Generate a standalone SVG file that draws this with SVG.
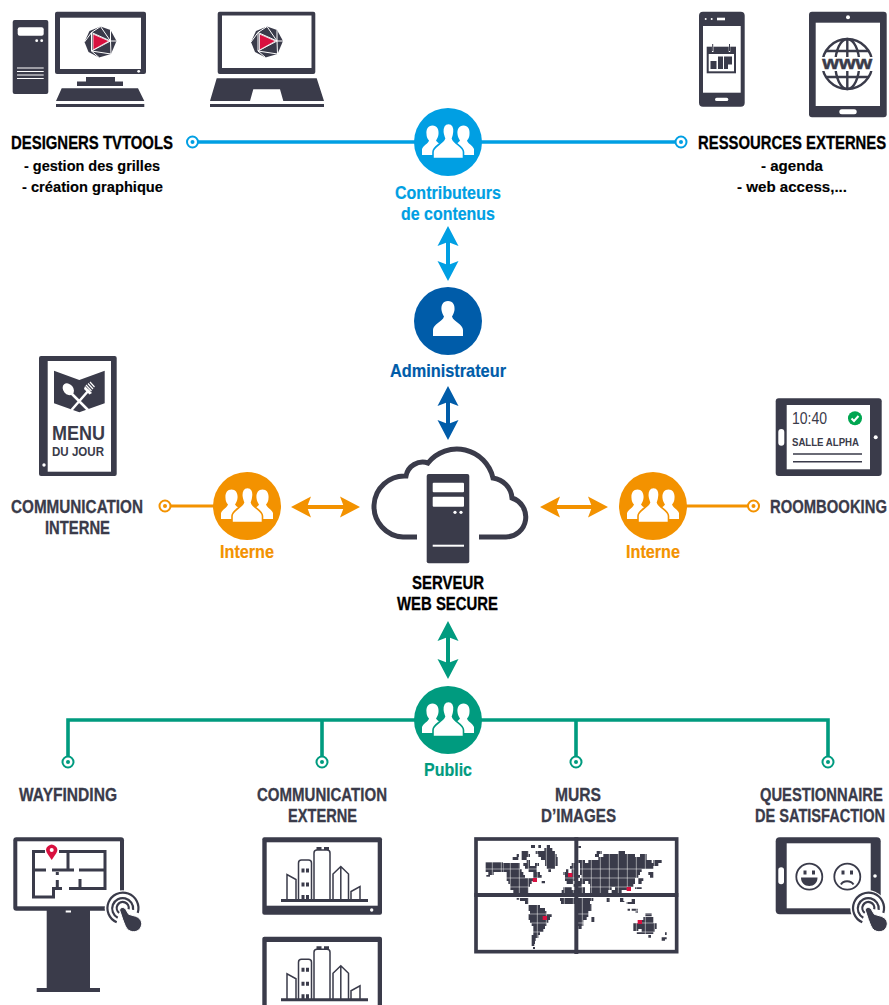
<svg xmlns="http://www.w3.org/2000/svg" width="889" height="1005" viewBox="0 0 889 1005">
<style>
text{font-family:"Liberation Sans",Arial,sans-serif;font-weight:bold;text-anchor:start}
.h{font-size:18px;fill:#000;stroke:#000;stroke-width:.3}
.s{font-size:15.5px;fill:#000;stroke:#000;stroke-width:.15}
.d{font-size:18px;fill:#3a3b4a;stroke:#3a3b4a;stroke-width:.3}
.c{text-anchor:middle}
.dk{fill:#3a3b4a}
.w{fill:#fff}
.ln{stroke:#3a3b4a;fill:none}
.wl{stroke:#fff;fill:none}
.blue{stroke:#009fe3}.navy{stroke:#005ca9}.or{stroke:#f39200}.gr{stroke:#009b7f}
.conn{fill:none;stroke-width:3.6}
.end{fill:#fff;stroke-width:2}
.lb{font-size:18.5px;stroke-width:.2}
</style>
<defs>
<marker id="mb" viewBox="0 -11 20 22" refX="10" refY="0" markerUnits="userSpaceOnUse" markerWidth="20" markerHeight="22" orient="auto-start-reverse"><path d="M20 0L0-10.500L4 0L0 10.500Z" fill="#009fe3"/></marker>
<marker id="mn" viewBox="0 -11 20 22" refX="10" refY="0" markerUnits="userSpaceOnUse" markerWidth="20" markerHeight="22" orient="auto-start-reverse"><path d="M20 0L0-10.500L4 0L0 10.500Z" fill="#005ca9"/></marker>
<marker id="mo" viewBox="0 -11 20 22" refX="10" refY="0" markerUnits="userSpaceOnUse" markerWidth="20" markerHeight="22" orient="auto-start-reverse"><path d="M20 0L0-10.500L4 0L0 10.500Z" fill="#f39200"/></marker>
<marker id="mg" viewBox="0 -11 20 22" refX="10" refY="0" markerUnits="userSpaceOnUse" markerWidth="20" markerHeight="22" orient="auto-start-reverse"><path d="M20 0L0-10.500L4 0L0 10.500Z" fill="#009b7f"/></marker>
<g id="side"><path d="M0-16.500C4.500-16.500 6.500-12.500 6-8C5.800-5 4.500-3 3.500-1.500C5 1.500 11 3 12.500 7V13H-10.500V7C-9 3-4.500 2-3.500-1.500C-5-3-6-5-6-8C-6.500-12.500-4.500-16.500 0-16.500Z" fill="#fff"/></g>
<g id="people">
<use href="#side" x="-15.500"/>
<g transform="translate(15.500 0) scale(-1 1)"><use href="#side"/></g>
<path stroke="currentColor" stroke-width="1.600" fill="#fff" d="M.5-18.500C5-18.500 6.500-14.500 6-10C5.800-7 5-5 4.500-3.500C6 2 15.500 4 15.500 10V16.500H-15V10C-15 4-5.500 2-3.500-3.500C-4-5-5-7-5.200-10C-5.500-14.500-4-18.500 .5-18.500Z"/>
</g>
<g id="logo">
<path class="dk" d="M0-15.500L10-12L16-1L10.500 12L-1.500 15.500L-12 10L-16 0L-11-11Z"/>
<path class="wl" stroke-width="1" d="M0-15.500L-9-9.500L10-1M-16 0L-9-9.500M-9-9.500L-9 9L-1.500 15.500M-9 9L10-1L10.500 12L-9 9M10-1L16-1M10-1L0-15.500M10-12L10-1"/>
<path d="M-7.500-8L8.500-1L-7.500 8Z" fill="#d9103f" stroke="#fff" stroke-width=".8" stroke-linejoin="round"/>
</g>
<g id="touch">
<circle r="18" fill="#fff"/>
<g class="ln" stroke-width="2.200"><path d="M-6 14A15.500 15.500 0 1 1 15 4.500"/><path d="M-5 9.500A10.500 10.500 0 1 1 10.400 1.500"/><path d="M-3.500 4.500A6 6 0 1 1 5.900 1"/></g>
<path class="dk" stroke="#fff" stroke-width="1" d="M-3 2C-3-1 1-2 3 1L6 6L13 8C18 10 20 14 18.500 18C17 23 11 25 6 22C3 20 2 16 0 11Z"/>
</g>
<g id="city">
<g class="ln" stroke-width="1.500"><path d="M287 900V874.500L296 879.500V900"/><path d="M298.500 900V863Q298.500 860 301.500 860H308.500Q311.500 860 311.500 863V900"/><path d="M314 900V853Q314 850 317 850H327Q330 850 330 853V900"/><path d="M333 900V874L340.800 866.500L348.500 874V900M340.800 867V900"/><path d="M351 900V891.500L360 886.500V900"/></g>
<path class="dk" d="M316.500 847h5v3h-5zM324 847h5v3h-5zM301.500 868.500h3v4h-3zM306 868.500h3v4h-3zM301.500 882.500h3v4h-3zM306 882.500h3v4h-3zM301.500 895h3v4h-3zM306 895h3v4h-3zM281 899h87v3h-87z"/>
</g>
</defs>
<rect width="889" height="1005" fill="#fff"/>

<g id="connectors">
<path class="conn blue" d="M198 142H675"/>
<circle class="end blue" cx="192.500" cy="142" r="5.500"/><circle cx="192.500" cy="142" r="2" fill="#009fe3"/>
<circle class="end blue" cx="681" cy="142" r="5.500"/><circle cx="681" cy="142" r="2" fill="#009fe3"/>
<path class="blue" stroke-width="4" d="M448 236V271" marker-start="url(#mb)" marker-end="url(#mb)"/>
<path class="navy" stroke-width="4" d="M448 396V430" marker-start="url(#mn)" marker-end="url(#mn)"/>
<path class="or conn" style="stroke-width:3" d="M171 506H220"/>
<circle class="end or" cx="165" cy="506" r="5.500"/><circle cx="165" cy="506" r="2" fill="#f39200"/>
<path class="or" stroke-width="4" d="M301 507H350" marker-start="url(#mo)" marker-end="url(#mo)"/>
<path class="or" stroke-width="4" d="M550 507H598" marker-start="url(#mo)" marker-end="url(#mo)"/>
<path class="or conn" style="stroke-width:3" d="M680 506H748"/>
<circle class="end or" cx="753.500" cy="506" r="5.500"/><circle cx="753.500" cy="506" r="2" fill="#f39200"/>
<path class="gr" stroke-width="4" d="M448 631V669" marker-start="url(#mg)" marker-end="url(#mg)"/>
<path class="gr conn" d="M68 756V720H828V756M322 720V756M576 720V756"/>
<g class="gr"><circle class="end" cx="68" cy="762" r="5.500"/><circle class="end" cx="322" cy="762" r="5.500"/><circle class="end" cx="576" cy="762" r="5.500"/><circle class="end" cx="828" cy="762" r="5.500"/></g>
<g fill="#009b7f"><circle cx="68" cy="762" r="2"/><circle cx="322" cy="762" r="2"/><circle cx="576" cy="762" r="2"/><circle cx="828" cy="762" r="2"/></g>
</g>

<g id="designers-tvtools">
<rect class="dk" x="12.700" y="20" width="35.600" height="74" rx="2"/>
<rect class="w" x="17.700" y="27.300" width="26" height="8.400" rx="2"/>
<circle class="w" cx="36.700" cy="40.700" r="1.400"/><circle class="w" cx="41.700" cy="40.700" r="1.400"/>
<path class="wl" stroke-width="1.200" d="M17 68H43.700M17 71.500H43.700M17 75H43.700M17 78.500H43.700"/>
<rect class="dk" x="55" y="11.700" width="91" height="62.300" rx="2"/>
<rect class="w" x="60" y="17.700" width="81" height="51.300"/>
<circle class="w" cx="138.700" cy="71.300" r="1.400"/>
<path class="dk" d="M86 77H115V81.500H123V86H77V81.500H86ZM61.700 88.300H138L144.300 101H56ZM56 104H144.300V107H56Z"/>
<use href="#logo" x="100.500" y="42"/>
<rect class="dk" x="217.700" y="11.700" width="97.600" height="62.300" rx="2"/>
<rect class="w" x="222" y="15.500" width="89.500" height="52.500"/>
<path class="dk" d="M216.700 78.300H316.700L324 101H283.300L280 89.300H253.300L250 101H210ZM210 104H324V107H210Z"/>
<use href="#logo" x="267" y="42"/>
<text class="h" x="11" y="149" textLength="162" lengthAdjust="spacingAndGlyphs">DESIGNERS TVTOOLS</text>
<text class="s" x="24" y="171" textLength="136" lengthAdjust="spacingAndGlyphs">- gestion des grilles</text>
<text class="s" x="22" y="192" textLength="141" lengthAdjust="spacingAndGlyphs">- création graphique</text>
</g>

<g id="ressources-externes">
<rect class="dk" x="699" y="11.700" width="45.700" height="95" rx="4"/>
<rect class="w" x="703" y="26" width="37.700" height="66.700"/>
<circle class="w" cx="705.700" cy="19" r="1"/><circle class="w" cx="711.700" cy="19" r="1"/>
<rect class="w" x="717" y="17.700" width="8" height="2.600"/>
<rect class="w" x="715" y="97.700" width="13.300" height="3.400" rx="1.700"/>
<rect class="dk" x="706.700" y="46.700" width="29.300" height="26.600"/>
<rect class="w" x="708.700" y="54" width="25.300" height="17.300"/>
<path class="dk" d="M710.500 61h6V69h-6zM718 56.500h5V69h-5zM724 56.500h8v8h-4v4.500h-4z"/>
<path class="wl" stroke-width="1.500" d="M712.700 46V52M729.500 46V52"/>
<path class="ln" stroke-width="1" d="M712.700 44V51M729.500 44V51"/>
<rect class="dk" x="809" y="11.700" width="77.700" height="105.600" rx="3"/>
<rect class="w" x="815.700" y="22.700" width="64.300" height="83.300"/>
<circle class="w" cx="848" cy="17.300" r="2"/>
<rect class="w" x="839.300" y="109.200" width="17.400" height="5" rx="2.500"/>
<g class="ln" stroke-width="2.400"><circle cx="847.300" cy="64" r="25"/><ellipse cx="847.300" cy="64" rx="12" ry="25"/><path d="M847.300 39V89M826 51H868.500M826 77H868.500"/></g>
<rect class="w" x="821" y="57" width="53" height="14"/>
<text x="847.300" y="69" font-size="19" class="dk c" stroke="#3a3b4a" stroke-width=".5" textLength="50" lengthAdjust="spacingAndGlyphs">www</text>
<text class="h" transform="translate(698 149) scale(.825 1)">RESSOURCES EXTERNES</text>
<text class="s" x="761" y="171" textLength="62" lengthAdjust="spacingAndGlyphs">- agenda</text>
<text class="s" x="737" y="192" textLength="110" lengthAdjust="spacingAndGlyphs">- web access,...</text>
</g>

<g id="contributeurs">
<circle cx="448" cy="142" r="34" fill="#009fe3"/>
<use href="#people" x="448" y="142" color="#009fe3"/>
<g fill="#009fe3" stroke="#009fe3">
<text class="lb" x="395" y="199" textLength="106" lengthAdjust="spacingAndGlyphs">Contributeurs</text>
<text class="lb" x="401" y="220" textLength="94" lengthAdjust="spacingAndGlyphs">de contenus</text></g>
</g>

<g id="administrateur">
<circle cx="448" cy="321" r="34" fill="#005ca9"/>
<path class="w" d="M448 301C453 301 455 305 454.500 310C454 313 453 315 452 316.500C453.500 322 463 324 463 330V336H433V330C433 324 442.500 322 444 316.500C443 315 442 313 441.500 310C441 305 443 301 448 301Z"/>
<text class="lb" x="390" y="377" fill="#005ca9" stroke="#005ca9" textLength="116" lengthAdjust="spacingAndGlyphs">Administrateur</text>
</g>

<g id="communication-interne">
<rect class="dk" x="39" y="356" width="77.700" height="120" rx="2"/>
<rect class="w" x="47.700" y="361" width="63.300" height="110.700"/>
<circle class="w" cx="44" cy="465" r="1.700"/>
<path class="dk" d="M54 370.700L79.300 380L104.700 370.700V403.300L79.300 412.300L54 403.300Z"/>
<ellipse class="w" cx="68.300" cy="389.300" rx="5" ry="6.500" transform="rotate(-40 68.300 389.300)"/>
<path class="wl" stroke-width="2.500" d="M70 392L88 410M89 390L71.500 410"/>
<path class="wl" stroke-width="1.200" d="M86 385L91.500 391M88 383.500L93 389M90 382L94.500 387"/>
<path class="w" d="M85 386L92 393L89.500 394.500L84 389Z"/>
<text x="52" y="440" font-size="20" class="dk" textLength="53" lengthAdjust="spacingAndGlyphs">MENU</text>
<text x="52" y="456" font-size="12.500" class="dk" textLength="52" lengthAdjust="spacingAndGlyphs">DU JOUR</text>
<text class="d" x="11" y="513" textLength="132" lengthAdjust="spacingAndGlyphs">COMMUNICATION</text>
<text class="d" x="45" y="534" textLength="65" lengthAdjust="spacingAndGlyphs">INTERNE</text>
</g>

<g id="interne-gauche">
<circle cx="247" cy="506" r="34" fill="#f39200"/>
<use href="#people" x="247" y="506" color="#f39200"/>
<text class="lb" x="220" y="558" fill="#f39200" stroke="#f39200" textLength="54" lengthAdjust="spacingAndGlyphs">Interne</text>
</g>

<g id="serveur">
<path class="ln" stroke-width="5" d="M417 537H403A30.500 30.500 0 0 1 406 476A17 17 0 0 1 428 463A37 37 0 0 1 493 478A22 22 0 0 1 512 498A20 20 0 0 1 506 537H479"/>
<rect class="dk" x="426.700" y="474" width="42.600" height="89.300" rx="2"/>
<rect class="w" x="432.700" y="482.700" width="31.300" height="9.600" rx="1"/>
<rect class="w" x="432.700" y="496.700" width="31.300" height="10" rx="1"/>
<circle class="w" cx="455" cy="512.300" r="1.600"/><circle class="w" cx="461" cy="512.300" r="1.600"/>
<path class="wl" stroke-width="2" d="M432.700 545.700H464"/>
<text class="h" x="412" y="589" textLength="72" lengthAdjust="spacingAndGlyphs">SERVEUR</text>
<text class="h" x="397" y="610" textLength="101" lengthAdjust="spacingAndGlyphs">WEB SECURE</text>
</g>

<g id="interne-droite">
<circle cx="653" cy="506" r="34" fill="#f39200"/>
<use href="#people" x="653" y="506" color="#f39200"/>
<text class="lb" x="626" y="558" fill="#f39200" stroke="#f39200" textLength="54" lengthAdjust="spacingAndGlyphs">Interne</text>
</g>

<g id="roombooking">
<rect class="dk" x="775.700" y="398.300" width="106" height="77.700" rx="3"/>
<rect class="w" x="786.700" y="405" width="83.300" height="64.300"/>
<rect class="w" x="778.300" y="429" width="6" height="16.700" rx="3"/>
<circle class="w" cx="875.700" cy="437.300" r="2"/>
<text x="792" y="424" font-size="16" class="dk" style="font-weight:normal" textLength="35" lengthAdjust="spacingAndGlyphs">10:40</text>
<circle cx="855" cy="418.300" r="7" fill="#00a651"/>
<path class="wl" stroke-width="2" d="M851.500 418.500L854 421L858.500 416"/>
<text x="792" y="445.700" font-size="11.500" class="dk" textLength="67" lengthAdjust="spacingAndGlyphs">SALLE ALPHA</text>
<path class="ln" stroke-width="1.500" d="M793 454H862M793 461.700H862"/>
<text class="d" transform="translate(770 513) scale(.824 1)">ROOMBOOKING</text>
</g>

<g id="public">
<circle cx="448" cy="720" r="34" fill="#009b7f"/>
<use href="#people" x="448" y="720" color="#009b7f"/>
<text class="lb" x="424" y="776" fill="#009b7f" stroke="#009b7f" textLength="48" lengthAdjust="spacingAndGlyphs">Public</text>
</g>

<g id="wayfinding">
<text class="d" x="19" y="801" textLength="98" lengthAdjust="spacingAndGlyphs">WAYFINDING</text>
<rect class="dk" x="13.300" y="837.300" width="110.700" height="73.400" rx="3"/>
<rect class="w" x="17.300" y="841.300" width="102.700" height="65"/>
<path class="dk" d="M46.700 910H90V988H100V992H36.700V988H46.700Z"/>
<rect class="w" x="65.700" y="910.500" width="5.300" height="2"/>
<path class="ln" stroke-width="3" d="M45 851.500H33.500V897H53.500V888.500H62M69 888.500H105V851.500H59M68 851.500V869M33.500 870H46M52 870H74M79 870H105M57.300 872V875M57.300 880V888M80 879V888"/>
<path d="M51.700 860L47 853A5.500 5.500 0 1 1 56.400 853Z" fill="#d9103f"/><circle class="w" cx="51.700" cy="850" r="2"/>
<use href="#touch" x="122.700" y="908.300"/>
</g>

<g id="communication-externe">
<text class="d" x="257" y="801" textLength="130" lengthAdjust="spacingAndGlyphs">COMMUNICATION</text>
<text class="d" x="288" y="822" textLength="69" lengthAdjust="spacingAndGlyphs">EXTERNE</text>
<rect class="dk" x="262.300" y="837.300" width="119.700" height="77.400" rx="2"/>
<rect class="w" x="266.700" y="842.300" width="111" height="63.400"/>
<circle class="w" cx="371.700" cy="910" r="1.700"/>
<use href="#city"/>
<rect class="dk" x="262.300" y="936.700" width="119.700" height="77.400" rx="2"/>
<rect class="w" x="266.700" y="942" width="111" height="63.400"/>
<use href="#city" y="99.300"/>
</g>

<g id="murs-d-images">
<text class="d" x="555" y="801" textLength="46" lengthAdjust="spacingAndGlyphs">MURS</text>
<text class="d" x="541" y="822" textLength="75" lengthAdjust="spacingAndGlyphs">D’IMAGES</text>
<g transform="translate(465 830) scale(.33333)">
<path class="dk" d="M198 45h12v9h-12zM220 45h8v9h-8zM245 45h10v9h-10zM238 54h24v9h-24zM340 48h8v6h-8zM170 63h20v9h-20zM212 63h58v9h-58zM155 72h7v9h-7zM170 72h25v9h-25zM220 72h55v9h-55zM395 63h15v9h-15zM390 72h12v9h-12zM460 63h20v9h-20zM143 81h17v9h-17zM170 81h15v9h-15zM228 81h50v9h-50zM415 72h95v9h-95zM525 72h20v9h-20zM400 81h145v9h-145zM185 90h10v9h-10zM240 90h38v9h-38zM340 90h20v9h-20zM370 90h190v9h-190zM565 90h25v9h-25zM115 99h50v9h-50zM175 99h20v9h-20zM210 99h12v9h-12zM240 99h38v9h-38zM320 99h15v9h-15zM345 99h235v9h-235zM115 108h50v9h-50zM180 108h35v9h-35zM245 108h25v9h-25zM315 108h15v9h-15zM345 108h220v9h-220zM115 117h55v9h-55zM190 117h25v9h-25zM250 117h8v9h-8zM303 117h7v9h-7zM320 117h15v9h-15zM345 117h185v9h-185zM125 126h50v9h-50zM205 126h20v9h-20zM295 126h15v9h-15zM320 126h15v9h-15zM345 126h180v9h-180zM550 126h15v9h-15zM125 135h55v9h-55zM205 135h25v9h-25zM300 135h45v9h-45zM350 135h170v9h-170zM555 135h10v9h-10zM125 144h90v9h-90zM300 144h30v9h-30zM345 144h165v9h-165zM520 144h15v9h-15zM130 153h70v9h-70zM230 153h10v7h-10zM305 153h20v9h-20zM335 153h25v9h-25zM370 153h140v9h-140zM520 153h10v9h-10zM135 162h60v9h-60zM325 162h25v9h-25zM375 162h130v9h-130zM135 171h55v9h-55zM295 171h25v9h-25zM330 171h30v9h-30zM375 171h65v9h-65zM450 171h40v9h-40zM510 171h20v6h-20zM145 180h45v9h-45zM290 180h70v9h-70zM375 180h55v9h-55zM440 180h30v9h-30zM150 189h15v6h-15zM170 189h15v6h-15zM290 189h80v9h-80zM385 189h35v9h-35zM470 189h20v9h-20zM155 204h8v5h-8zM165 204h25v9h-25zM285 204h100v9h-100zM425 204h10v9h-10zM465 204h10v9h-10zM500 207h10v9h-10zM180 213h10v9h-10zM288 213h87v9h-87zM425 213h10v3h-10zM465 213h13v3h-13zM485 216h25v6h-25zM190 225h35v9h-35zM330 222h50v9h-50zM190 234h50v9h-50zM330 231h50v12h-50zM487 236h8v6h-8zM500 236h18v6h-18zM195 243h50v9h-50zM330 243h40v9h-40zM512 243h6v6h-6zM190 252h70v9h-70zM330 252h40v9h-40zM540 250h20v9h-20zM190 261h65v9h-65zM330 261h35v9h-35zM378 261h10v9h-10zM535 261h30v9h-30zM195 270h55v9h-55zM330 270h25v9h-25zM378 270h10v6h-10zM520 270h45v9h-45zM200 279h45v9h-45zM335 279h20v9h-20zM505 279h70v9h-70zM205 288h35v9h-35zM340 288h10v9h-10zM505 288h70v9h-70zM205 297h30v9h-30zM505 297h15v6h-15zM530 297h40v9h-40zM205 306h20v9h-20zM515 306h50v6h-50zM200 315h20v9h-20zM550 315h8v8h-8zM600 306h5v9h-5zM200 324h12v9h-12zM590 322h15v6h-15zM200 333h10v9h-10zM590 328h10v4h-10zM200 342h8v6h-8zM204 351h6v6h-6z"/>
<rect class="dk" x="62" y="97" width="52" height="29"/>
<rect class="dk" x="70" y="126" width="16" height="9"/>
<rect class="dk" x="64" y="135" width="11" height="5"/>
<path class="wl" stroke-width="1.500" d="M136 40V360M163 40V360M190 40V360M217 40V360M244 40V360M271 40V360M298 40V360M325 40V360M352 40V360M379 40V360M406 40V360M433 40V360M460 40V360M487 40V360M514 40V360M541 40V360M568 40V360M109 40V140M82 90V140M60 117H610M60 144H610M60 171H610M60 252H610M60 279H610M60 306H610"/>
<path fill="#d9103f" d="M309 129h13v12h-13zM203 144h13v12h-13zM485 171h13v12h-13zM233 258h13v12h-13zM518 270h13v12h-13z"/>
<g class="ln"><rect x="33" y="27" width="602" height="338" stroke-width="11"/><path stroke-width="12" d="M334 22V372M28 195H640"/></g>
</g>
</g>

<g id="questionnaire">
<text class="d" transform="translate(760 801) scale(.82 1)">QUESTIONNAIRE</text>
<text class="d" transform="translate(755 822) scale(.81 1)">DE SATISFACTION</text>
<rect class="dk" x="775.700" y="837.300" width="105" height="77" rx="4"/>
<rect class="w" x="786.700" y="843.300" width="84" height="65"/>
<rect class="w" x="778.300" y="867.300" width="5.700" height="17" rx="2.800"/>
<circle class="w" cx="875" cy="876" r="1.800"/>
<circle class="ln" cx="809.300" cy="876.700" r="13" stroke-width="1.800"/>
<path class="dk" d="M803.500 874.500h3v-4h-3zM812 874.500h3v-4h-3zM801 877.500H817.500C817.500 883 814 886 809.300 886C804.500 886 801 883 801 877.500Z"/>
<circle class="ln" cx="847.300" cy="876.700" r="13" stroke-width="1.800"/>
<path class="dk" d="M841.500 874.500h3v-4h-3zM850 874.500h3v-4h-3z"/>
<path class="ln" stroke-width="2" d="M841 884.500C843 880 851 880 853.500 884.500"/>
<use href="#touch" x="868.300" y="908.300"/>
</g>
</svg>
